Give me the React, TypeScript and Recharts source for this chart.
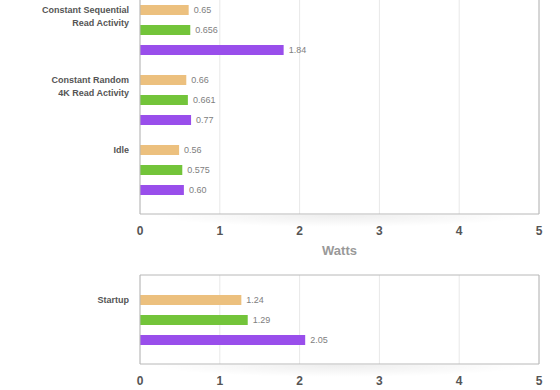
import { Bar, BarChart, CartesianGrid, Label, LabelList, XAxis, YAxis } from 'recharts';

const categories = ['Constant Sequential\nRead Activity', 'Constant Random\n4K Read Activity', 'Idle'];
const orangeValues = [0.61, 0.58, 0.49];
const greenValues = [0.63, 0.6, 0.53];
const purpleValues = [1.8, 0.64, 0.55];
const orangeLabels = ['0.65', '0.66', '0.56'];
const greenLabels = ['0.656', '0.661', '0.575'];
const purpleLabels = ['1.84', '0.77', '0.60'];

const startupCategories = ['Startup'];
const startupOrange = [1.27];
const startupGreen = [1.35];
const startupPurple = [2.07];
const startupOrangeLabels = ['1.24'];
const startupGreenLabels = ['1.29'];
const startupPurpleLabels = ['2.05'];

const wattTicks = [0, 1, 2, 3, 4, 5];

const ORANGE = '#ecc07e';
const GREEN = '#73c43a';
const PURPLE = '#994eeb';
const FRAME = '#b8b8b8';
const FONT = '"Liberation Sans", Arial, Helvetica, sans-serif';

const buildRows = (
  names: string[],
  a: number[],
  b: number[],
  c: number[],
  la: string[],
  lb: string[],
  lc: string[]
) => names.map((name, i) => ({ name, a: a[i], b: b[i], c: c[i], la: la[i], lb: lb[i], lc: lc[i] }));

const topData = buildRows(categories, orangeValues, greenValues, purpleValues, orangeLabels, greenLabels, purpleLabels);
const bottomData = buildRows(
  startupCategories,
  startupOrange,
  startupGreen,
  startupPurple,
  startupOrangeLabels,
  startupGreenLabels,
  startupPurpleLabels
);

const CategoryTick = (props: any) => {
  const { x, y, payload } = props;
  const lines = String(payload.value).split('\n');
  return (
    <text x={x} y={y - 20} textAnchor="end" fill="#555" fontSize={9} fontWeight="bold" fontFamily={FONT}>
      {lines.map((line, i) => (
        <tspan key={i} x={x} dy={i === 0 ? '0.35em' : 13}>
          {line}
        </tspan>
      ))}
    </text>
  );
};

const valueLabelStyle = { fill: '#808080', fontSize: 9, fontFamily: FONT };
const tickStyle = { fill: '#555', fontSize: 12, fontWeight: 'bold', fontFamily: FONT };

function renderChart(data: typeof topData, width: number, height: number, top: number, isTop: boolean) {
  return (
    <BarChart
      layout="vertical"
      width={width}
      height={height}
      data={data}
      barSize={10}
      barGap={10}
      margin={{ top, right: 21, bottom: 0, left: 0 }}
    >
      <CartesianGrid horizontal={false} stroke="#e8e8e8" />
      {/* frame: right edge always, top edge only where it is visible */}
      <CartesianGrid
        stroke={FRAME}
        horizontal={!isTop}
        horizontalCoordinatesGenerator={({ offset }: any) => [offset.top]}
        verticalCoordinatesGenerator={({ offset }: any) => [offset.left + offset.width]}
      />
      <XAxis
        type="number"
        domain={[0, 5]}
        ticks={wattTicks}
        height={isTop ? 46 : 26}
        tickLine={false}
        tickSize={0}
        tickMargin={12}
        axisLine={{ stroke: FRAME }}
        tick={tickStyle}
        interval={0}
      >
        {isTop ? (
          <Label
            value="Watts"
            position="insideBottom"
            offset={5}
            style={{ fill: '#999', fontSize: 13, fontWeight: 'bold', fontFamily: FONT }}
          />
        ) : null}
      </XAxis>
      <YAxis
        type="category"
        dataKey="name"
        width={140}
        padding={{ top: 9, bottom: 9 }}
        tickLine={false}
        tickSize={0}
        tickMargin={11}
        axisLine={{ stroke: FRAME }}
        tick={<CategoryTick />}
        interval={0}
      />
      <Bar dataKey="a" fill={ORANGE} isAnimationActive={false}>
        <LabelList dataKey="la" position="right" offset={5} style={valueLabelStyle} />
      </Bar>
      <Bar dataKey="b" fill={GREEN} isAnimationActive={false}>
        <LabelList dataKey="lb" position="right" offset={5} style={valueLabelStyle} />
      </Bar>
      <Bar dataKey="c" fill={PURPLE} isAnimationActive={false}>
        <LabelList dataKey="lc" position="right" offset={5} style={valueLabelStyle} />
      </Bar>
    </BarChart>
  );
}

const shadow = {
  position: 'absolute' as const,
  left: 150,
  width: 380,
  height: 12,
  background: 'radial-gradient(ellipse 50% 100% at 50% 0%, rgba(0,0,0,0.07), rgba(0,0,0,0))'
};

export default function App() {
  return (
    <div
      style={{
        position: 'absolute',
        left: 0,
        top: 0,
        width: 560,
        height: 390,
        overflow: 'hidden',
        background: '#fff'
      }}
    >
      <div style={{ ...shadow, top: 215 }} />
      <div style={{ ...shadow, top: 365 }} />
      <div style={{ position: 'absolute', left: 0, top: -30 }}>{renderChart(topData, 560, 290, 16, true)}</div>
      <div style={{ position: 'absolute', left: 0, top: 265 }}>
        {renderChart(bottomData, 560, 125, 10, false)}
      </div>
    </div>
  );
}
